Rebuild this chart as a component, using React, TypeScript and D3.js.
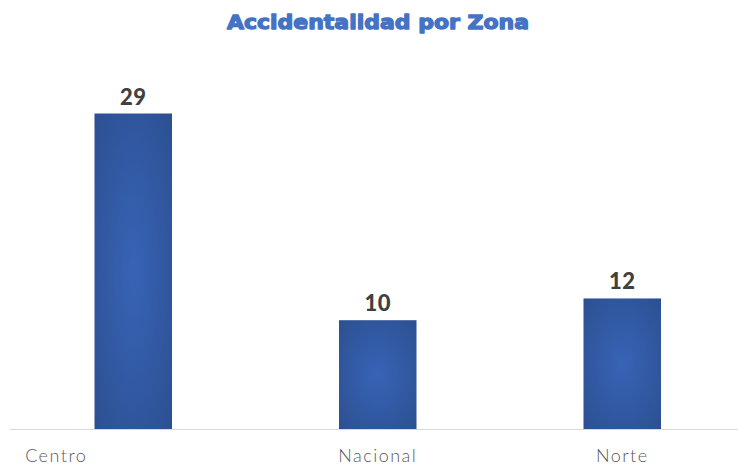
import React from "react";
import * as d3 from "d3";

const categories = ["Centro", "Nacional", "Norte"];
const values = [29, 10, 12];
const title = "Accidentalidad por Zona";

const W = 738;
const H = 466;

export default function App() {
  const x = d3
    .scaleBand<string>()
    .domain(categories)
    .range([11, 744.5])
    .paddingInner(0.683)
    .paddingOuter(0.3415);
  const y = d3.scaleLinear().domain([0, 29]).range([429, 113.5]);
  const labelDx = [-77, 0, 0];

  return (
    <svg
      width={W}
      height={H}
      style={{ position: "absolute", left: 0, top: 0, background: "#fff" }}
    >
      <defs>
        <radialGradient id="barGrad" cx="50%" cy="50%" r="75%">
          <stop offset="0%" stopColor="#3864B7" />
          <stop offset="100%" stopColor="#2B4E8E" />
        </radialGradient>
      </defs>
      <text
        x={378}
        y={29}
        textAnchor="middle"
        fontFamily="'DejaVu Sans', sans-serif"
        fontWeight={900}
        fontSize={20}
        fill="#4472C4"
        stroke="#4472C4"
        strokeWidth={1.3}
        strokeLinejoin="round"
        textLength={302}
        lengthAdjust="spacingAndGlyphs"
      >
        {title}
      </text>
      <line x1={10} x2={738} y1={y(0) + 0.5} y2={y(0) + 0.5} stroke="#D9D9D9" strokeWidth={1} />
      {categories.map((c, i) => (
        <g key={c}>
          <rect
            x={x(c)!}
            y={y(values[i])}
            width={x.bandwidth()}
            height={y(0) - y(values[i])}
            fill="url(#barGrad)"
          />
          <text
            x={x(c)! + x.bandwidth() / 2}
            y={y(values[i]) - 9}
            textAnchor="middle"
            fontFamily="Lato, sans-serif"
            fontWeight={900}
            fontSize={22}
            letterSpacing={0.5}
            fill="#404040"
          >
            {values[i]}
          </text>
          <text
            x={x(c)! + x.bandwidth() / 2 + labelDx[i]}
            y={462}
            textAnchor="middle"
            fontFamily="Lato, sans-serif"
            fontWeight={300}
            fontSize={18}
            letterSpacing={1.5}
            fill="#595959"
          >
            {c}
          </text>
        </g>
      ))}
    </svg>
  );
}
